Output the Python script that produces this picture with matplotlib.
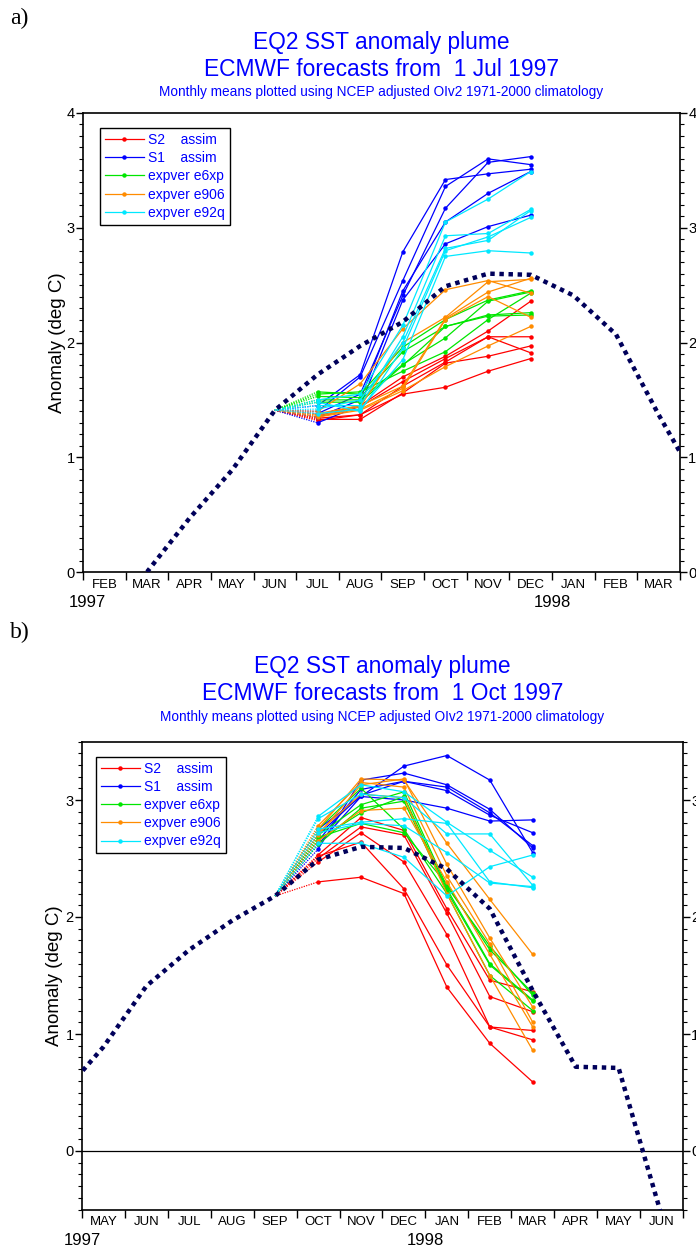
import numpy as np
import matplotlib.pyplot as plt
from matplotlib.ticker import MultipleLocator, FixedLocator, FixedFormatter, NullFormatter
from matplotlib.transforms import blended_transform_factory

plt.rcParams['font.family'] = ['Liberation Sans', 'DejaVu Sans']

mon_names = ['JAN', 'FEB', 'MAR', 'APR', 'MAY', 'JUN', 'JUL', 'AUG', 'SEP', 'OCT', 'NOV', 'DEC']

# monthly analysis anomaly, Feb 1997 .. Jun 1998 (index 0 = Feb 1997)
obs = [-0.30, 0.00, 0.47, 0.89, 1.41, 1.72, 1.97, 2.18, 2.49, 2.60, 2.59,
       2.41, 2.07, 1.37, 0.72, 0.71, -0.55]

labels = ['S2    assim', 'S1    assim', 'expver e6xp', 'expver e906', 'expver e92q']
colors = ['#ff0000', '#0000ff', '#00e600', '#ff8c00', '#00e8ff']

# forecasts from 1 Jul 1997, members Jul..Dec
jul_s2 = [[1.37, 1.45, 1.70, 1.88, 2.10, 2.36],
          [1.35, 1.44, 1.66, 1.86, 2.05, 2.05],
          [1.34, 1.37, 1.62, 1.83, 2.05, 1.91],
          [1.33, 1.33, 1.56, 1.82, 1.88, 1.97],
          [1.32, 1.37, 1.55, 1.61, 1.75, 1.86]]
jul_s1 = [[1.45, 1.72, 2.79, 3.42, 3.47, 3.51],
          [1.40, 1.70, 2.54, 3.36, 3.60, 3.55],
          [1.38, 1.55, 2.41, 3.17, 3.57, 3.62],
          [1.35, 1.50, 2.45, 3.05, 3.30, 3.49],
          [1.30, 1.45, 2.37, 2.86, 3.01, 3.11]]
jul_e6xp = [[1.57, 1.55, 1.96, 2.20, 2.37, 2.45],
            [1.53, 1.52, 1.92, 2.14, 2.24, 2.26],
            [1.50, 1.50, 1.81, 2.04, 2.36, 2.44],
            [1.48, 1.48, 1.80, 2.14, 2.23, 2.24],
            [1.55, 1.57, 1.75, 1.92, 2.20, 2.43]]
jul_e906 = [[1.40, 1.64, 2.12, 2.46, 2.54, 2.43],
            [1.38, 1.45, 1.62, 2.21, 2.44, 2.56],
            [1.36, 1.42, 1.60, 2.20, 2.40, 2.22],
            [1.35, 1.41, 1.58, 1.79, 1.97, 2.14],
            [1.37, 1.44, 2.00, 2.22, 2.53, 2.55]]
jul_e92q = [[1.50, 1.55, 2.15, 3.05, 3.25, 3.49],
            [1.45, 1.45, 2.05, 2.93, 2.95, 3.16],
            [1.42, 1.50, 2.00, 2.82, 2.89, 3.15],
            [1.48, 1.40, 1.95, 2.80, 2.92, 3.09],
            [1.38, 1.42, 1.85, 2.75, 2.80, 2.78]]

# forecasts from 1 Oct 1997, members Oct..Mar
oct_s2 = [[2.53, 2.85, 2.74, 2.07, 1.46, 1.36],
          [2.50, 2.77, 2.70, 2.03, 1.32, 1.19],
          [2.47, 2.72, 2.47, 1.85, 1.06, 1.03],
          [2.52, 2.64, 2.24, 1.59, 1.06, 0.95],
          [2.30, 2.34, 2.20, 1.40, 0.92, 0.59]]
oct_s1 = [[2.62, 3.03, 3.29, 3.38, 3.17, 2.55],
          [2.58, 3.17, 3.23, 3.13, 2.92, 2.59],
          [2.65, 3.09, 3.16, 3.11, 2.89, 2.61],
          [2.70, 3.04, 3.16, 3.08, 2.87, 2.72],
          [2.75, 3.03, 3.00, 2.93, 2.82, 2.83]]
oct_e6xp = [[2.70, 2.96, 3.07, 2.26, 1.75, 1.33],
            [2.66, 2.89, 3.03, 2.24, 1.60, 1.29],
            [2.62, 2.93, 2.99, 2.22, 1.59, 1.28],
            [2.75, 3.10, 2.75, 2.20, 1.50, 1.20],
            [2.68, 2.80, 2.72, 2.28, 1.72, 1.35]]
oct_e906 = [[2.75, 3.18, 3.17, 2.63, 2.15, 1.68],
            [2.70, 3.13, 3.18, 2.45, 1.82, 1.23],
            [2.78, 3.15, 3.11, 2.35, 1.77, 1.10],
            [2.65, 2.91, 2.93, 2.30, 1.68, 1.06],
            [2.72, 3.05, 3.02, 2.20, 1.50, 0.86]]
oct_e92q = [[2.86, 3.13, 3.07, 2.81, 2.57, 2.34],
            [2.84, 3.05, 3.02, 2.71, 2.71, 2.27],
            [2.75, 2.81, 2.84, 2.80, 2.30, 2.25],
            [2.63, 2.63, 2.51, 2.18, 2.43, 2.53],
            [2.72, 2.80, 2.78, 2.55, 2.29, 2.26]]

W, H = 696, 1252
fig = plt.figure(figsize=(W / 100, H / 100), dpi=100)
blue = '#0000ff'


def plume(rect, m0, start, runs, ylim, date, title_y, year_pos, leg_xy, ylab_x):
    ax = fig.add_axes([rect[0] / W, 1 - rect[3] / H, (rect[2] - rect[0]) / W, (rect[3] - rect[1]) / H])
    # forecast members, dotted link from last analysed month
    for lab, col, mem in zip(labels, colors, runs):
        for k, m in enumerate(mem):
            x = np.arange(len(m)) + start + 0.5
            ax.plot([start - 0.5, start + 0.5], [obs[start - 1], m[0]], color=col, lw=0.9, ls=(0, (1, 1)))
            ax.plot(x, m, color=col, lw=0.9, marker='o', ms=2.2, label=lab if k == 0 else None)
    xo = np.arange(len(obs)) + 0.5
    ax.plot(xo, obs, color='#00005a', lw=3.2, ls=(0, (1, 1.05)), zorder=6)

    ax.set_xlim(m0, m0 + 14)
    ax.set_ylim(*ylim)
    ax.xaxis.set_major_locator(FixedLocator(np.arange(m0, m0 + 15)))
    ax.xaxis.set_major_formatter(NullFormatter())
    ax.xaxis.set_minor_locator(FixedLocator(np.arange(m0, m0 + 14) + 0.5))
    ax.xaxis.set_minor_formatter(FixedFormatter([mon_names[(m0 + i + 1) % 12] for i in range(14)]))
    ax.tick_params(axis='x', which='major', direction='out', length=6, width=1, top=False)
    ax.tick_params(axis='x', which='minor', length=0, pad=5, labelsize=9.5, top=False)
    ax.yaxis.set_major_locator(MultipleLocator(1))
    ax.yaxis.set_minor_locator(MultipleLocator(0.1))
    ax.tick_params(axis='y', which='both', direction='out', left=True, right=True, labelright=True, labelsize=10.5)
    ax.tick_params(axis='y', which='major', length=5, width=1, pad=1)
    ax.tick_params(axis='y', which='minor', length=3, width=0.8)
    for s in ax.spines.values():
        s.set_linewidth(1.2)

    tr = blended_transform_factory(ax.transData, ax.transAxes)
    for yx, yr in year_pos:
        ax.text(yx, -0.066, yr, transform=tr, ha='center', va='center', fontsize=12)

    ax.text(ylab_x, 0.5, 'Anomaly (deg C)', transform=ax.transAxes, rotation=90,
            ha='center', va='center', fontsize=13.5)

    leg = ax.legend(loc='upper left', bbox_to_anchor=leg_xy, fontsize=10, labelcolor=blue,
                    numpoints=1, handlelength=2.8, handletextpad=0.3, labelspacing=0.3,
                    borderpad=0.35, borderaxespad=0, fancybox=False, framealpha=1)
    leg.get_frame().set_edgecolor('black')
    leg.get_frame().set_linewidth(1.0)

    cx = (rect[0] + rect[2]) / 2 / W
    fig.text(cx, 1 - title_y[0] / H, 'EQ2 SST anomaly plume', color=blue, fontsize=16.4, ha='center', va='center')
    fig.text(cx, 1 - title_y[1] / H, 'ECMWF forecasts from  1 ' + date, color=blue, fontsize=16.4, ha='center', va='center')
    fig.text(cx, 1 - title_y[2] / H, 'Monthly means plotted using NCEP adjusted OIv2 1971-2000 climatology',
             color=blue, fontsize=9.8, ha='center', va='center')
    return ax


ax1 = plume((83, 113, 680, 572), 0, 5, [jul_s2, jul_s1, jul_e6xp, jul_e906, jul_e92q], (0, 4),
            'Jul 1997', (43, 70, 92), [(0.1, '1997'), (11, '1998')], (0.0285, 0.967), -0.042)
ax2 = plume((82, 741.5, 683, 1209.5), 3, 8, [oct_s2, oct_s1, oct_e6xp, oct_e906, oct_e92q], (-0.5, 3.5),
            'Oct 1997', (667, 694, 717), [(3, '1997'), (11, '1998')], (0.0233, 0.967), -0.045)
ax2.axhline(0, color='black', lw=0.9, zorder=1)

fig.text(10 / W, 1 - 8 / H, 'a)', fontsize=17, va='top', ha='left', family='Liberation Serif')
fig.text(10 / W, 1 - 622 / H, 'b)', fontsize=17, va='top', ha='left', family='Liberation Serif')

fig.savefig('out.png', dpi=100)
